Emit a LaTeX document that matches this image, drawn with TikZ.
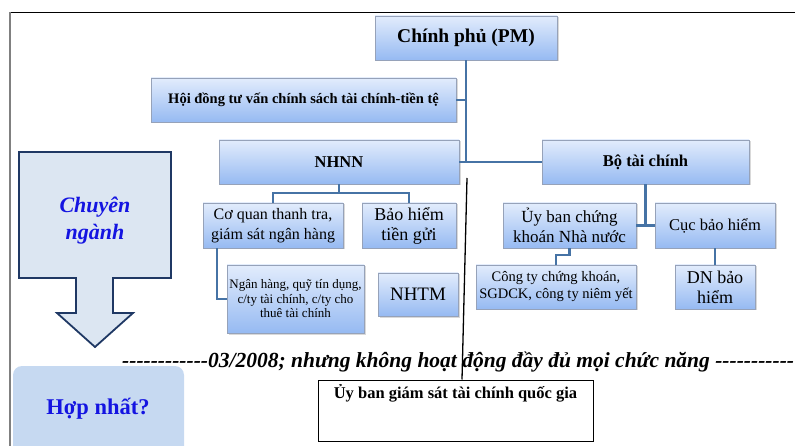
\documentclass[tikz,border=0pt]{standalone}
\usepackage{fontspec}
\setmainfont{Liberation Serif}
\usepackage{tikz}
\usetikzlibrary{shadows,calc,positioning}
\definecolor{boxtop}{RGB}{226,236,252}
\definecolor{boxbot}{RGB}{150,186,242}
\definecolor{boxline}{RGB}{150,162,185}
\definecolor{linkblue}{RGB}{70,115,165}
\definecolor{arrowfill}{RGB}{220,230,242}
\definecolor{arrowline}{RGB}{31,56,100}
\definecolor{mergefill}{RGB}{198,217,241}
\definecolor{textblue}{RGB}{20,20,225}
\newcommand{\fs}[2]{\fontsize{#1}{#2}\selectfont}
\newcommand{\dashrun}[1]{\foreach \i in {1,...,#1}{\hbox{-}}}

\begin{document}
\begin{tikzpicture}[x=1pt,y=-1pt,
  org/.style={draw=boxline,top color=boxtop,bottom color=boxbot,inner sep=0pt,align=center,
    drop shadow={opacity=0.3,shadow xshift=1.5pt,shadow yshift=-1.5pt}},
  link/.style={draw=linkblue,line width=2.5pt}]
\useasboundingbox (0,0) rectangle (795,446);
% frame
\draw[line width=1.3pt] (10,12.5) -- (795,12.5);
\draw[gray,line width=2.5pt] (10,12) -- (10,446);

% organisation chart
\node[org,minimum width=182pt,minimum height=44pt,font=\bfseries\fs{19.5}{22}] (cp) at (466,38) {Chính phủ (PM)};
\node[org,minimum width=305pt,minimum height=44pt,font=\bfseries\fs{14.5}{17}] (hd) at (303.5,100) {Hội đồng tư vấn chính sách tài chính-tiền tệ};
\node[org,minimum width=240pt,minimum height=44pt,font=\bfseries\fs{16.5}{19}] (nhnn) at (339,162) {NHNN};
\node[org,minimum width=207pt,minimum height=44pt,font=\bfseries\fs{16.5}{19}] (btc) at (645.5,162) {Bộ tài chính};
\node[org,minimum width=140pt,minimum height=45pt,font=\fs{16}{20}] (cq) at (273,225.5) {Cơ quan thanh tra,\\giám sát ngân hàng};
\node[org,minimum width=94pt,minimum height=45pt,font=\fs{18}{20}] (bhtg) at (409,225.5) {Bảo hiểm\\tiền gửi};
\node[org,minimum width=137pt,minimum height=68pt,font=\fs{13}{14.5}] (nh) at (295.5,299) {Ngân hàng, quỹ tín dụng,\\c/ty tài chính, c/ty cho\\thuê tài chính};
\node[org,minimum width=80pt,minimum height=43pt,font=\fs{19}{22}] (nhtm) at (418,294.5) {NHTM};
\node[org,minimum width=133pt,minimum height=45pt,font=\fs{17}{20}] (ubck) at (569.5,225.5) {Ủy ban chứng\\khoán Nhà nước};
\node[org,minimum width=120pt,minimum height=45pt,font=\fs{16.5}{20}] (cbh) at (715,225.5) {Cục bảo hiểm};
\node[org,minimum width=160pt,minimum height=44pt,font=\fs{14.5}{17}] (ctck) at (556,287) {Công ty chứng khoán,\\SGDCK, công ty niêm yết};
\node[org,minimum width=80pt,minimum height=44pt,font=\fs{18}{20}] (dnbh) at (715,287) {DN bảo\\hiểm};

\draw[link] (cp.south) -- (cp.south |- nhnn.east);
\draw[link] (hd.east) -- (hd.east -| cp.south);
\draw[link] (nhnn.east) -- (btc.west);
\draw[link] (nhnn.south) -- ++(0,9);
\draw[link] (cq.north) -- ++(0,-10) -| (bhtg.north);
\draw[link] ([xshift=14pt]cq.south west) |- (nh.west);
\draw[link] (btc.south) -- (btc.south |- ubck.east);
\draw[link] (ubck.east) -- (cbh.west);
\draw[link] (ubck.south) -- ++(0,7) -| (ctck.north);
\draw[link] (cbh.south) -- (dnbh.north);

% left side
\draw[fill=arrowfill,draw=arrowline,line width=1.8pt] (19,152) -- (171,152) -- (171,278) -- (113,278) -- (113,313) -- (133,313) -- (95,347) -- (57,313) -- (76,313) -- (76,278) -- (19,278) -- cycle;
\node[font=\bfseries\itshape\fs{22}{27},text=textblue,align=center] (chuyen) at (95,221) {Chuyên\\ngành};
\fill[mergefill,rounded corners=9pt] (13,366) rectangle (184,460);
\node[font=\bfseries\fs{22.5}{26},text=textblue] (hopnhat) at (98,409) {Hợp nhất?};

% 2008 committee
\node[anchor=base west,inner sep=0pt,font=\bfseries\itshape\fs{21.5}{24}] (note) at (122,367) {\dashrun{12}03/2008; nhưng không hoạt động đầy đủ mọi chức năng \dashrun{11}};
\node[draw,line width=1pt,fill=white,minimum width=275pt,minimum height=61pt] (ubgs) at (455.5,410.5) {};
\node[font=\bfseries\fs{16.5}{18},below=1pt of ubgs.north] (ubgstext) {Ủy ban giám sát tài chính quốc gia};
\coordinate (drop) at (467,178);
\draw[line width=1.3pt] (drop) -- ([xshift=6.5pt]ubgs.north);
\end{tikzpicture}
\end{document}
